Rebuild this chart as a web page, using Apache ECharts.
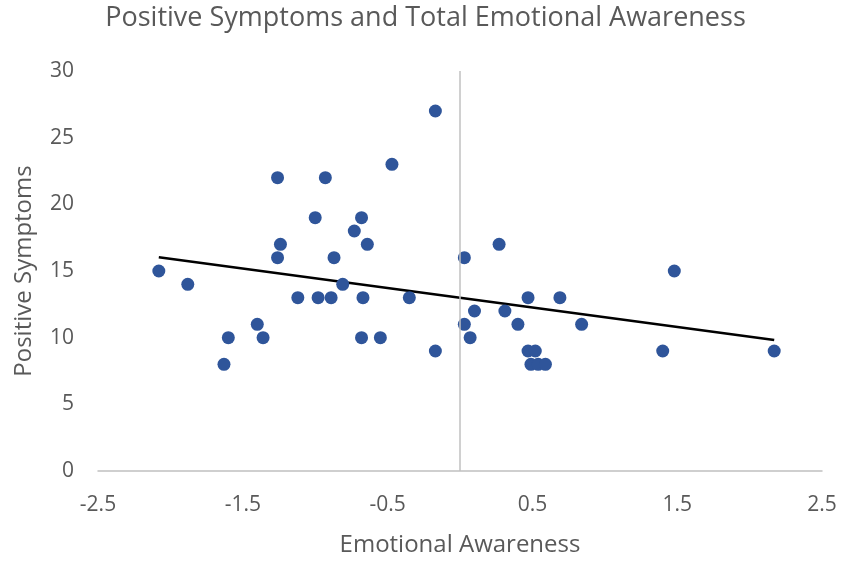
<!DOCTYPE html>
<html>
<head>
<meta charset="utf-8">
<script src="https://cdn.jsdelivr.net/npm/echarts@6/dist/echarts.min.js"></script>
<style>
    html, body { margin: 0; padding: 0; background: #fff; }
    #chart { width: 851px; height: 562px; }
</style>
</head>
<body>
<div id="chart"></div>
<script>
// emotional awareness (x) and positive symptoms (y)
var awareness = [-0.17, -0.47, -1.26, -0.93, -1.00, -0.68, -0.73, -1.24, -0.64, -1.26, -0.87, 0.03,
    -2.08, -1.88, -0.81, -1.12, -0.98, -0.89, -0.67, -0.35, 0.10, -1.40, 0.03, -1.60, -1.36,
    -0.68, -0.55, 0.07, -1.63, -0.17, 0.27, 1.48, 0.47, 0.69, 0.31, 0.40, 0.84, 0.47, 0.52,
    1.40, 2.17, 0.49, 0.54, 0.59];
var symptoms = [27, 23, 22, 22, 19, 19, 18, 17, 17, 16, 16, 16,
    15, 14, 14, 13, 13, 13, 13, 13, 12, 11, 11, 10, 10,
    10, 10, 10, 8, 9, 17, 15, 13, 13, 12, 11, 11, 9, 9,
    9, 9, 8, 8, 8];
var xTicks = [-2.5, -1.5, -0.5, 0.5, 1.5, 2.5];
var yTicks = [0, 5, 10, 15, 20, 25, 30];

var chart = echarts.init(document.getElementById('chart'));

var points = [];
for (var i = 0; i < awareness.length; i++) {
    points.push([awareness[i], symptoms[i]]);
}

// least squares trend line, drawn from smallest to largest x like excel does
function trend(xs, ys) {
    var n = xs.length, sx = 0, sy = 0, sxx = 0, sxy = 0;
    for (var i = 0; i < n; i++) {
        sx += xs[i]; sy += ys[i];
        sxx += xs[i] * xs[i]; sxy += xs[i] * ys[i];
    }
    var b = (n * sxy - sx * sy) / (n * sxx - sx * sx);
    var a = (sy - b * sx) / n;
    var lo = Math.min.apply(null, xs), hi = Math.max.apply(null, xs);
    return [[lo, a + b * lo], [hi, a + b * hi]];
}

var font = 'Open Sans';
var grey = '#595959';

chart.setOption({
    animation: false,
    title: {
        text: 'Positive Symptoms and Total Emotional Awareness',
        left: 'center',
        top: 0,
        textStyle: { fontFamily: font, fontSize: 27, fontWeight: 'normal', color: grey }
    },
    grid: { left: 98, right: 29, top: 71, bottom: 91 },
    xAxis: {
        type: 'value',
        min: -2.5,
        max: 2.5,
        interval: 1,
        name: 'Emotional Awareness',
        nameLocation: 'middle',
        nameGap: 62,
        nameTextStyle: { fontFamily: font, fontSize: 24, color: grey },
        axisLine: { onZero: true, lineStyle: { color: '#c0c0c0', width: 1.5 } },
        axisTick: { show: false },
        splitLine: { show: false },
        axisLabel: {
            fontFamily: font, fontSize: 21, color: grey, margin: 24,
            formatter: function (v) { return xTicks.indexOf(v) >= 0 ? String(v) : ''; }
        }
    },
    yAxis: {
        type: 'value',
        min: 0,
        max: 30,
        interval: 5,
        name: 'Positive Symptoms',
        nameLocation: 'middle',
        nameGap: 62,
        nameTextStyle: { fontFamily: font, fontSize: 24, color: grey },
        axisLine: { show: false },
        axisTick: { show: false },
        splitLine: { show: false },
        axisLabel: {
            fontFamily: font, fontSize: 21, color: grey, margin: 24,
            formatter: function (v) { return yTicks.indexOf(v) >= 0 ? String(v) : ''; }
        }
    },
    series: [{
        type: 'scatter',
        data: points,
        symbolSize: 13,
        itemStyle: { color: '#2F559A', opacity: 1 },
        z: 3,
        markLine: {
            silent: true,
            symbol: 'none',
            label: { show: false },
            lineStyle: { color: '#c0c0c0', type: 'solid', width: 1.5 },
            data: [{ xAxis: 0 }]
        }
    }, {
        type: 'line',
        data: trend(awareness, symptoms),
        symbol: 'none',
        lineStyle: { color: '#000', width: 2.5 },
        z: 2
    }]
});
</script>
</body>
</html>
